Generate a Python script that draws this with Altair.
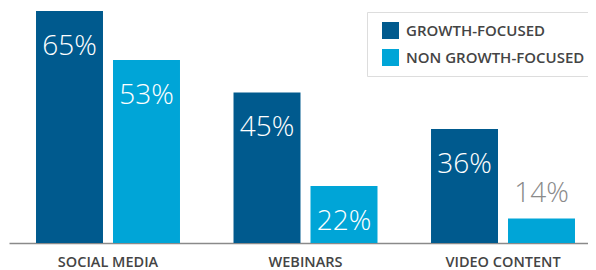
import altair as alt
import pandas as pd

categories = ["SOCIAL MEDIA", "WEBINARS", "VIDEO CONTENT"]
series_names = ["GROWTH-FOCUSED", "NON GROWTH-FOCUSED"]
growth = [65, 45, 36]
non_growth = [53, 22, 14]

rows = []
for c, g, n in zip(categories, growth, non_growth):
    rows.append({"category": c, "series": series_names[0], "value": g})
    rows.append({"category": c, "series": series_names[1], "value": n})
df = pd.DataFrame(rows)

colors = ["#005A8E", "#00A5D7"]
FONT = "Open Sans"

x = alt.X("category:N", sort=categories, title=None,
          scale=alt.Scale(paddingInner=0.271, paddingOuter=0.1013, align=0.675),
          axis=alt.Axis(labelAngle=0, ticks=False, domainColor="#8a8a8a", domainWidth=1.6,
                        labelFont=FONT, labelFontSize=14.5, labelColor="#444444",
                        labelFontWeight=600, labelPadding=12))
xo = alt.XOffset("series:N", sort=series_names, scale=alt.Scale(paddingInner=0.13, paddingOuter=0))
y = alt.Y("value:Q", axis=None, scale=alt.Scale(domain=[8, 65.75], zero=False, clamp=True))

base = alt.Chart(df).encode(x=x, xOffset=xo, y=y)

bars = base.mark_bar().encode(
    color=alt.Color("series:N", sort=series_names,
                    scale=alt.Scale(domain=series_names, range=colors),
                    legend=alt.Legend(title=None, orient="none", legendX=358, legendY=4,
                                      direction="vertical", strokeColor="#dddddd",
                                      fillColor="white", padding=10, symbolOffset=5,
                                      symbolType="square", symbolSize=289,
                                      symbolStrokeWidth=0, symbolOpacity=1,
                                      labelFont=FONT, labelFontSize=15,
                                      labelFontWeight=600, labelColor="#444444",
                                      labelOffset=7, rowPadding=10, labelLimit=300))
)

inside = base.mark_text(font=FONT, fontSize=28, fontWeight=300, color="white",
                        baseline="middle", dy=36).transform_filter(
    "datum.value >= 20").transform_calculate(
    label="datum.value + '%'"
).encode(text="label:N")

outside = base.mark_text(font=FONT, fontSize=28, fontWeight=300, color="#8a8a8a",
                         baseline="middle", dy=-25).transform_filter(
    "datum.value < 20").transform_calculate(
    label="datum.value + '%'"
).encode(text="label:N")

chart = (bars + inside + outside).properties(
    width=579, height=235,
    autosize=alt.AutoSizeParams(type="none"),
    padding={"left": 1, "top": 0, "right": 0, "bottom": 30}
).configure_view(strokeWidth=0)

chart.save("out.html", embed_options={"renderer": "svg", "actions": False})
